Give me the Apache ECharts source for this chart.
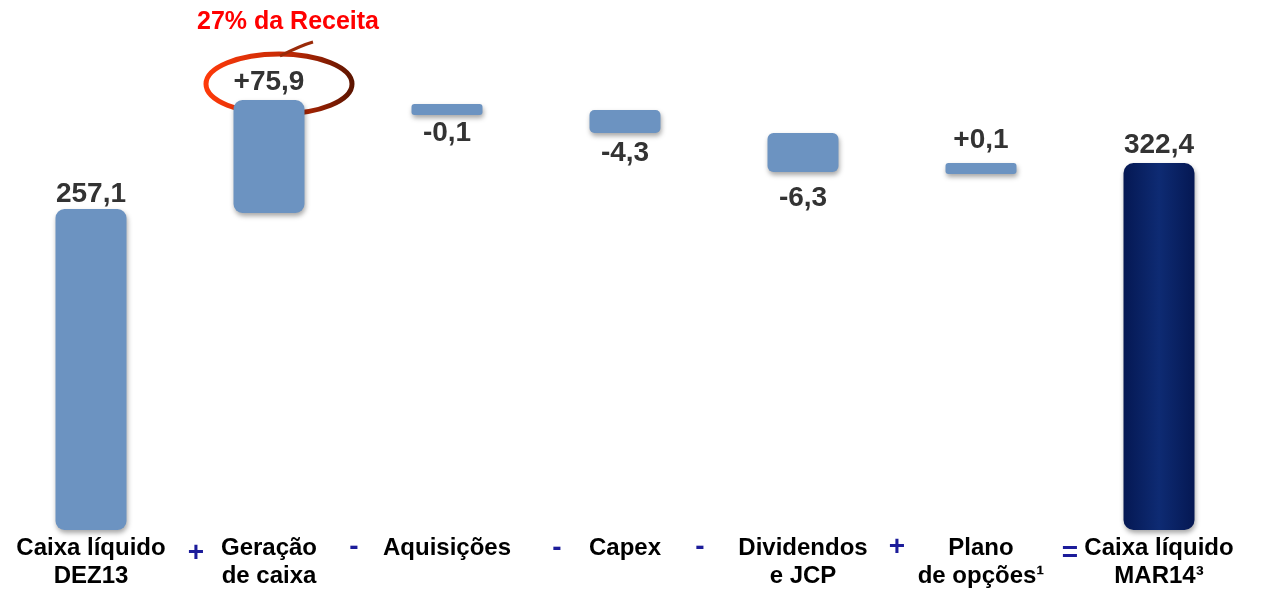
<!DOCTYPE html>
<html>
<head>
<meta charset="utf-8">
<script src="https://cdn.jsdelivr.net/npm/echarts@6/dist/echarts.min.js"></script>
<style>
  html, body { margin: 0; padding: 0; background: #fff; }
  #main { width: 1262px; height: 592px; }
</style>
</head>
<body>
<div id="main"></div>
<script>
// categorias do eixo x
var categories = ['Caixa líquido\nDEZ13', 'Geração\nde caixa', 'Aquisições', 'Capex', 'Dividendos\ne JCP', 'Plano\nde opções¹', 'Caixa líquido\nMAR14³'];
// valores impressos sobre as barras
var valueLabels = ['257,1', '+75,9', '-0,1', '-4,3', '-6,3', '+0,1', '322,4'];
// sinal de cada passo (1 = acima da barra, -1 = abaixo)
var signs = [1, 1, -1, -1, -1, 1, 1];
// extensão das barras como desenhadas no gráfico (base e topo)
var barLow  = [0, 253.9, 332.4, 318.0, 286.7, 285.1, 0];
var barHigh = [257.1, 344.4, 341.2, 336.4, 318.0, 293.9, 293.9];
// operadores entre as categorias
var operators = ['+', '-', '-', '-', '+', '='];

var chart = echarts.init(document.getElementById('main'));

var lightBlue = '#6c93c1';
var darkBlue = new echarts.graphic.LinearGradient(0, 0, 1, 0, [
  { offset: 0, color: '#051853' },
  { offset: 0.5, color: '#0e2b73' },
  { offset: 1, color: '#051853' }
]);
var radius = [9, 9, 3, 5, 6, 3, 10];
var labelGap = [1, 4, 4, 6, 12, 9, 4];

var baseData = barLow.map(function (v) { return v; });
var barData = barHigh.map(function (h, i) {
  return {
    value: +(h - barLow[i]).toFixed(1),
    itemStyle: {
      color: i === barHigh.length - 1 ? darkBlue : lightBlue,
      borderRadius: radius[i],
      shadowColor: 'rgba(0,0,0,0.35)',
      shadowBlur: 5,
      shadowOffsetX: 1,
      shadowOffsetY: 3
    },
    label: {
      position: signs[i] > 0 ? 'top' : 'bottom',
      distance: labelGap[i]
    }
  };
});

// posições dos operadores (texto decorativo entre rótulos)
var opX = [196, 354, 557, 700, 897, 1070];
var opY = [553, 547, 548, 547, 547, 553];
var opGraphics = operators.map(function (op, i) {
  return {
    type: 'text',
    x: opX[i],
    y: opY[i],
    style: {
      text: op,
      fill: '#1c1c9a',
      font: 'bold 28px "Liberation Sans", Arial, sans-serif',
      textAlign: 'center',
      verticalAlign: 'middle'
    }
  };
});

var option = {
  backgroundColor: '#ffffff',
  animation: false,
  grid: { left: 2, right: 14, top: 10, bottom: 62 },
  xAxis: {
    type: 'category',
    data: categories,
    axisLine: { show: false },
    axisTick: { show: false },
    axisLabel: {
      interval: 0,
      margin: 4,
      color: '#000',
      fontFamily: '"Liberation Sans", Arial, sans-serif',
      fontWeight: 'bold',
      fontSize: 24,
      lineHeight: 28
    }
  },
  yAxis: {
    type: 'value',
    min: 0,
    max: 416.5,
    show: false,
    splitLine: { show: false }
  },
  series: [
    {
      name: 'base',
      type: 'bar',
      stack: 'wf',
      barWidth: 71,
      silent: true,
      itemStyle: { color: 'transparent' },
      data: baseData
    },
    {
      name: 'valor',
      type: 'bar',
      stack: 'wf',
      barWidth: 71,
      data: barData,
      label: {
        show: true,
        color: '#333333',
        fontFamily: '"Liberation Sans", Arial, sans-serif',
        fontWeight: 'bold',
        fontSize: 28,
        formatter: function (p) { return valueLabels[p.dataIndex]; }
      }
    }
  ],
  graphic: [
    {
      type: 'ellipse',
      shape: { cx: 279, cy: 84, rx: 73, ry: 30 },
      style: {
        fill: 'none',
        lineWidth: 5,
        stroke: new echarts.graphic.LinearGradient(0, 0, 1, 0, [
          { offset: 0, color: '#ff3a0a' },
          { offset: 0.55, color: '#c42a05' },
          { offset: 1, color: '#5a1400' }
        ])
      }
    },
    {
      type: 'bezierCurve',
      shape: { x1: 280, y1: 56, cpx1: 292, cpy1: 50, cpx2: 302, cpy2: 45, x2: 313, y2: 42 },
      style: { stroke: '#9a2a08', lineWidth: 3, fill: 'none' }
    },
    {
      type: 'text',
      x: 288,
      y: 22,
      style: {
        text: '27% da Receita',
        fill: '#ff0000',
        font: 'bold 25px "Liberation Sans", Arial, sans-serif',
        textAlign: 'center',
        verticalAlign: 'middle'
      }
    }
  ].concat(opGraphics)
};

chart.setOption(option);
</script>
</body>
</html>
